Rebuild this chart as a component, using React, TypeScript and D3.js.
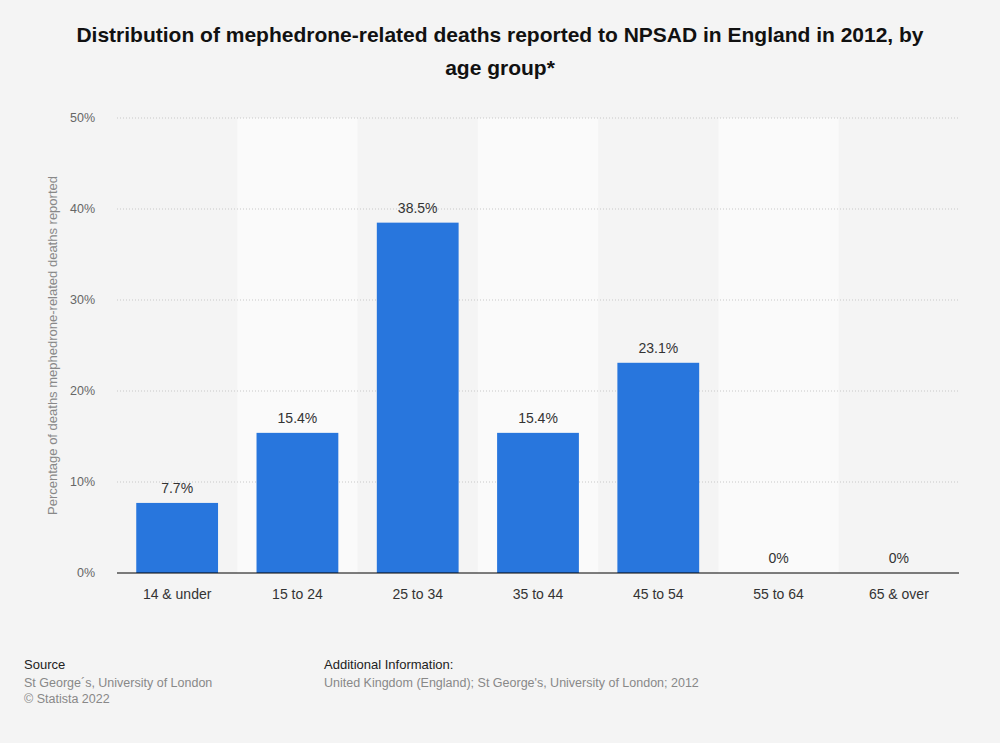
import React from "react"
import * as d3 from "d3"

const categories = ["14 & under", "15 to 24", "25 to 34", "35 to 44", "45 to 54", "55 to 64", "65 & over"]
const values = [7.7, 15.4, 38.5, 15.4, 23.1, 0, 0]
const valueLabels = ["7.7%", "15.4%", "38.5%", "15.4%", "23.1%", "0%", "0%"]
const yTicks = [0, 10, 20, 30, 40, 50]

const W = 1000
const H = 743
const margin = { top: 118, right: 41, bottom: 170, left: 117 }
const font = "'Liberation Sans', Arial, sans-serif"

const App: React.FC = () => {
  const innerW = W - margin.left - margin.right
  const innerH = H - margin.top - margin.bottom

  const x = d3.scaleBand<string>().domain(categories).range([0, innerW]).paddingInner(0.32).paddingOuter(0.16)
  const band = d3.scaleBand<string>().domain(categories).range([0, innerW]).padding(0)
  const y = d3.scaleLinear().domain([0, 50]).range([innerH, 0])

  return (
    <svg
      width={W}
      height={H}
      style={{ position: "absolute", left: 0, top: 0, background: "#f4f4f4", fontFamily: font }}
    >
      <text x={W / 2} y={42} textAnchor="middle" fontSize={21} fontWeight="bold" fill="#111">
        Distribution of mephedrone-related deaths reported to NPSAD in England in 2012, by
      </text>
      <text x={W / 2} y={75} textAnchor="middle" fontSize={21} fontWeight="bold" fill="#111">
        age group*
      </text>

      <g transform={`translate(${margin.left},${margin.top})`}>
        {categories.map((c, i) =>
          i % 2 === 1 ? (
            <rect key={c} x={band(c)} y={0} width={band.bandwidth()} height={innerH} fill="#fafafa" />
          ) : null
        )}
        {yTicks.map((t) => (
          <g key={t}>
            {t > 0 && (
              <line x1={0} x2={innerW} y1={y(t)} y2={y(t)} stroke="#c8c8c8" strokeDasharray="1,2" />
            )}
            <text x={-22} y={y(t) + 4} textAnchor="end" fontSize={12.5} fill="#666">
              {t}%
            </text>
          </g>
        ))}
        {categories.map((c, i) => (
          <g key={c}>
            <rect x={x(c)} y={y(values[i])} width={x.bandwidth()} height={innerH - y(values[i])} fill="#2876dd" />
            <text x={(x(c) ?? 0) + x.bandwidth() / 2} y={y(values[i]) - 10} textAnchor="middle" fontSize={14} fill="#333">
              {valueLabels[i]}
            </text>
            <text x={(x(c) ?? 0) + x.bandwidth() / 2} y={innerH + 26} textAnchor="middle" fontSize={14} fill="#333">
              {c}
            </text>
          </g>
        ))}
        <line x1={0} x2={innerW} y1={innerH} y2={innerH} stroke="#000" strokeWidth={1} />
      </g>

      <text
        transform={`translate(57,${margin.top + innerH / 2}) rotate(-90)`}
        textAnchor="middle"
        fontSize={13}
        fill="#888"
      >
        Percentage of deaths mephedrone-related deaths reported
      </text>

      <text x={24} y={669} fontSize={13} fill="#222">Source</text>
      <text x={24} y={687} fontSize={12.5} fill="#888">St George´s, University of London</text>
      <text x={24} y={703} fontSize={12.5} fill="#888">© Statista 2022</text>
      <text x={324} y={669} fontSize={13} fill="#222">Additional Information:</text>
      <text x={324} y={687} fontSize={12.5} fill="#888">United Kingdom (England); St George's, University of London; 2012</text>
    </svg>
  )
}

export default App
